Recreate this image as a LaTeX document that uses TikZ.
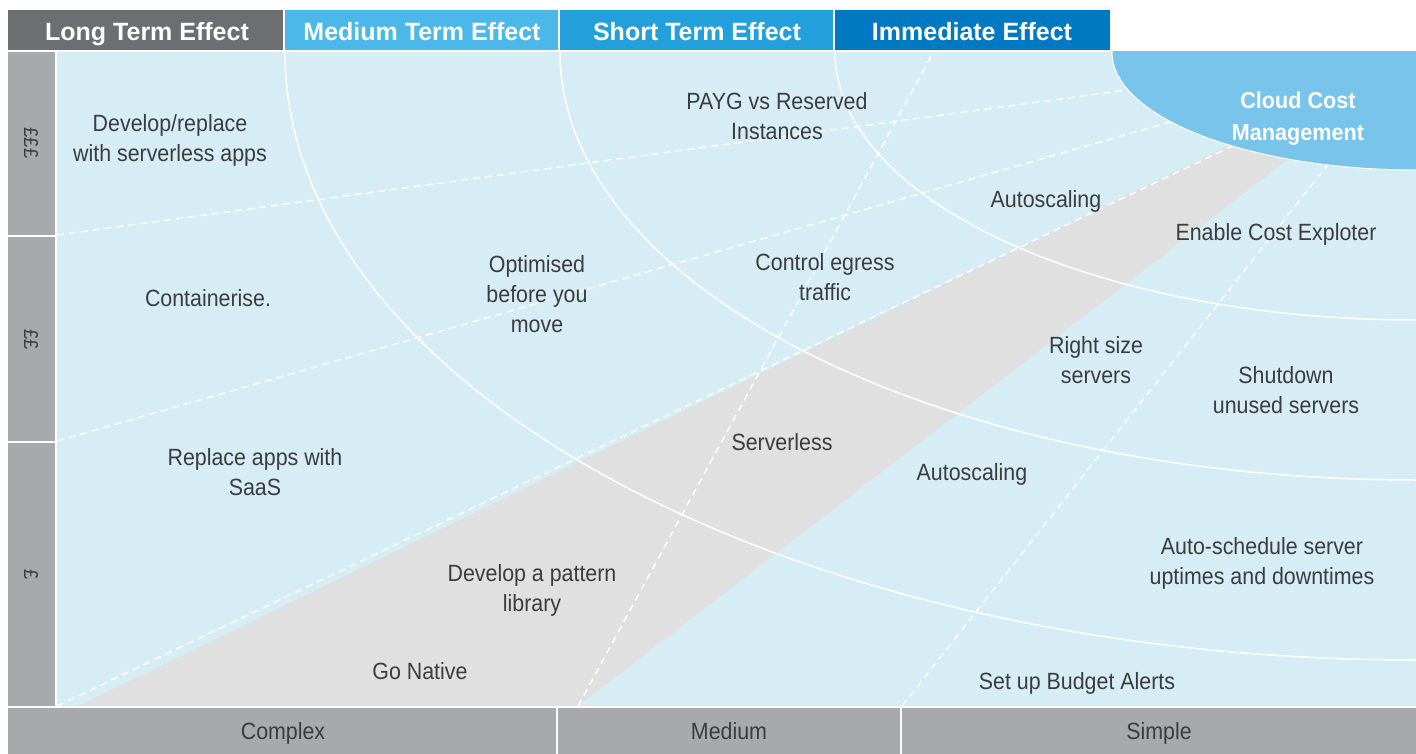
\documentclass[tikz,border=0pt]{standalone}
\usepackage{fontspec}
\setmainfont{Liberation Sans}[FakeStretch=0.91]
\newfontfamily\headfont{Liberation Sans}
\newfontfamily\titlefont{Liberation Sans}[FakeStretch=0.94]
\definecolor{bodyblue}{HTML}{D6EDF5}
\definecolor{bandgray}{HTML}{E0E0E1}
\definecolor{longgray}{HTML}{6D6E71}
\definecolor{medblue}{HTML}{4BB8E9}
\definecolor{shortblue}{HTML}{23A0DB}
\definecolor{immblue}{HTML}{0079C2}
\definecolor{cloudblue}{HTML}{78C4EA}
\definecolor{axisgray}{HTML}{A7A9AC}
\definecolor{txtgray}{HTML}{3C3C3E}
\begin{document}
\begin{tikzpicture}[x=1pt,y=-1pt,
  lbl/.style={text=txtgray, font=\fontsize{23.5}{30}\selectfont, align=center, inner sep=0pt},
  head/.style={text=white, font=\headfont\bfseries\fontsize{25}{30}\selectfont, inner sep=0pt, anchor=base},
  axislbl/.style={text=txtgray, font=\fontsize{23.5}{30}\selectfont, inner sep=0pt, anchor=base},
  pound/.style={text=txtgray, font=\fontsize{20}{22}\selectfont, inner sep=0pt, rotate=-90},
  guide/.style={white, line width=1.4pt, dash pattern=on 7pt off 5pt},
  ring/.style={white, line width=1.5pt}]
\useasboundingbox (0,0) rectangle (1416,754);
\fill[white] (0,0) rectangle (1416,754);

% header cells
\fill[longgray]  (8,10)   rectangle (283,50);
\fill[medblue]   (285,10) rectangle (558,50);
\fill[shortblue] (560,10) rectangle (833,50);
\fill[immblue]   (835,10) rectangle (1110,50);

% cost axis on the left
\fill[axisgray] (8,52)  rectangle (55,235);
\fill[axisgray] (8,237) rectangle (55,441);
\fill[axisgray] (8,443) rectangle (55,706);

% complexity axis at the bottom
\fill[axisgray] (8,708)   rectangle (556,754);
\fill[axisgray] (558,708) rectangle (900,754);
\fill[axisgray] (902,708) rectangle (1416,754);

% main field
\fill[bodyblue] (57,52) rectangle (1416,706);

\begin{scope}
  \clip (57,52) rectangle (1416,706);
  % diagonal band
  \fill[bandgray] (78,706) -- (1330,96) -- (1378,90) -- (578,706) -- cycle;
  % dashed guides
  \draw[guide] (57,235) -- (1160,85.5);
  \draw[guide] (57,441) -- (1200,113.4);
  \draw[guide] (57,706) -- (1260,132.8);
  \draw[guide] (578,706) -- (940,40);
  \draw[guide] (902,706) -- (1340,149);
  % effect rings
  \draw[ring] (1416,52) ellipse [x radius=1131, y radius=608];
  \draw[ring] (1416,52) ellipse [x radius=856, y radius=428];
  \draw[ring] (1416,52) ellipse [x radius=581, y radius=268];
  % centre
  \fill[cloudblue, draw=white, line width=1pt] (1416,52) ellipse [x radius=304, y radius=118];
\end{scope}

% header texts
\node[head] (hlong)  at (147,40.5) {Long Term Effect};
\node[head] (hmed)   at (422,40.5) {Medium Term Effect};
\node[head] (hshort) at (697,40.5) {Short Term Effect};
\node[head] (himm)   at (972,40.5) {Immediate Effect};

% axis texts
\node[pound] (p3) at (31,143) {£££};
\node[pound] (p2) at (31,340) {££};
\node[pound] (p1) at (31,575) {£};
\node[axislbl] (complex) at (283,739.5) {Complex};
\node[axislbl] (medium)  at (729,739.5) {Medium};
\node[axislbl] (simple)  at (1159,739.5) {Simple};

% centre title
\node[text=white, align=center, inner sep=0pt, font=\titlefont\bfseries\fontsize{23}{32}\selectfont] (ccm) at (1298,118.5) {Cloud Cost\\Management};

% actions
\node[lbl] (t1)  at (170,140.5) {Develop/replace\\with serverless apps};
\node[lbl] (t2)  at (208,298)  {Containerise.};
\node[lbl] (t3)  at (255,472)  {Replace apps with\\SaaS};
\node[lbl] (t4)  at (532,590)  {Develop a pattern\\library};
\node[lbl] (t5)  at (420,671)  {Go Native};
\node[lbl] (t6)  at (537,294)  {Optimised\\before you\\move};
\node[lbl] (t7)  at (777,116)  {PAYG vs Reserved\\Instances};
\node[lbl] (t8)  at (825,277)  {Control egress\\traffic};
\node[lbl] (t9)  at (782,442)  {Serverless};
\node[lbl] (t10) at (1046,201) {Autoscaling};
\node[lbl] (t11) at (1276,234) {Enable Cost Exploter};
\node[lbl] (t12) at (1096,360.5) {Right size\\servers};
\node[lbl] (t13) at (1286,390.5) {Shutdown\\unused servers};
\node[lbl] (t14) at (972,474)  {Autoscaling};
\node[lbl] (t15) at (1262,563) {Auto-schedule server\\uptimes and downtimes};
\node[lbl] (t16) at (1077,683) {Set up Budget Alerts};
\end{tikzpicture}
\end{document}
